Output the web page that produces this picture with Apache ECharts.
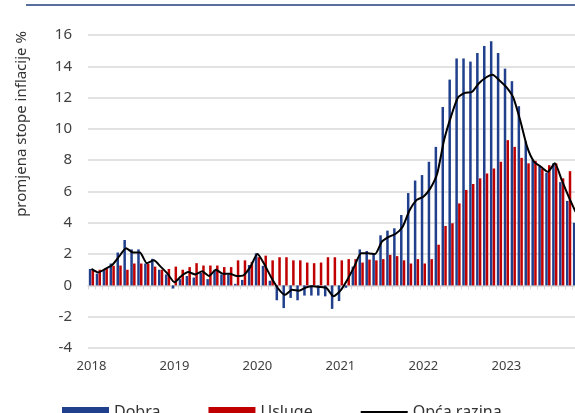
<!DOCTYPE html>
<html>
<head>
<meta charset="utf-8">
<script src="https://cdn.jsdelivr.net/npm/echarts@6/dist/echarts.min.js"></script>
<style>
  html, body { margin: 0; padding: 0; background: #fff; }
  #chart { width: 575px; height: 413px; }
</style>
</head>
<body>
<div id="chart"></div>
<script>
// mjeseci od 2018-01 do 2023-11
const years = ['2018', '2019', '2020', '2021', '2022', '2023'];
const months = ['01', '02', '03', '04', '05', '06', '07', '08', '09', '10', '11', '12'];
const categories = [];
years.forEach(y => months.forEach(m => categories.push(y + '-' + m)));
categories.length = 71;

// Dobra (plavo)
const dobra = [
  1.05, 0.75, 1.0, 1.4, 2.1, 2.9, 2.3, 2.3, 1.4, 1.7, 1.0, 0.7,
  -0.2, 0.4, 0.6, 0.5, 0.8, 0.4, 1.0, 0.7, 0.7, 0.1, 0.35, 1.3,
  2.05, 1.25, 0.3, -0.95, -1.45, -0.8, -0.95, -0.65, -0.65, -0.65, -0.7, -1.5,
  -1.0, -0.15, 1.2, 2.3, 2.2, 2.05, 3.2, 3.5, 3.65, 4.5, 5.9, 6.7,
  7.05, 7.9, 8.85, 11.4, 13.15, 14.5, 14.5, 14.3, 14.85, 15.3, 15.6, 14.85,
  13.85, 13.05, 11.45, 9.2, 8.0, 7.6, 7.2, 7.8, 6.6, 5.4, 4.0
];

// Usluge (crveno)
const usluge = [
  1.0, 1.0, 1.05, 1.25, 1.27, 1.0, 1.4, 1.4, 1.38, 1.2, 1.0, 1.05,
  1.2, 1.0, 1.17, 1.42, 1.27, 1.27, 1.27, 1.17, 1.17, 1.6, 1.6, 1.5,
  1.8, 1.9, 1.6, 1.8, 1.8, 1.6, 1.6, 1.46, 1.42, 1.46, 1.8, 1.8,
  1.6, 1.68, 1.68, 1.46, 1.65, 1.6, 1.68, 1.95, 1.87, 1.6, 1.4, 1.68,
  1.4, 1.68, 2.6, 3.8, 3.97, 5.24, 6.1, 6.48, 6.84, 7.15, 7.47, 7.9,
  9.28, 8.85, 8.15, 7.8, 7.96, 7.47, 7.68, 7.8, 6.84, 7.3, 6.9
];

// Opća razina (linija)
const opcaRazina = [
  1.06, 0.83, 1.05, 1.3, 1.85, 2.38, 2.1, 2.1, 1.42, 1.6, 1.2, 0.75,
  0.2, 0.6, 0.85, 0.7, 0.9, 0.6, 1.0, 0.75, 0.75, 0.6, 0.65, 1.2,
  2.0, 1.35, 0.5, -0.2, -0.6, -0.28, -0.34, -0.13, -0.06, -0.1, -0.17, -0.7,
  -0.34, 0.36, 1.2, 2.06, 2.06, 2.0, 2.8, 3.1, 3.3, 3.75, 4.8, 5.45,
  5.67, 6.2, 7.15, 9.3, 10.8, 12.0, 12.3, 12.36, 12.9, 13.27, 13.46, 13.1,
  12.67, 12.0, 10.55, 8.85, 7.9, 7.58, 7.26, 7.8, 6.73, 5.67, 4.7
];

const font = 'Noto Sans';
const chart = echarts.init(document.getElementById('chart'));

chart.setOption({
  animation: false,
  textStyle: { fontFamily: font },
  graphic: [
    // plava crta na vrhu
    { type: 'line', shape: { x1: 26, y1: 5, x2: 575, y2: 5 }, style: { stroke: '#1f3f7f', lineWidth: 1.5 } },
    {
      type: 'text', x: 22, y: 124, rotation: Math.PI / 2,
      style: { text: 'promjena stope inflacije %', font: '15px "Noto Sans"', fill: '#333', align: 'center', verticalAlign: 'middle' }
    }
  ],
  // graf je desno odrezan, pa je širina veća od prozora
  grid: { left: 88, width: 491, top: 35, bottom: 65, outerBoundsMode: 'none' },
  legend: {
    left: 57, top: 399,
    itemWidth: 47, itemHeight: 10, itemGap: 48,
    textStyle: { fontSize: 16, color: '#333', fontFamily: font },
    data: [
      { name: 'Dobra', icon: 'rect' },
      { name: 'Usluge', icon: 'rect' },
      { name: 'Opća razina', icon: 'path://M0,0 L48,0 L48,2 L0,2 Z' }
    ]
  },
  xAxis: [
    {
      type: 'category', data: categories, position: 'bottom',
      axisLine: { onZero: true, lineStyle: { color: '#d9d9d9', width: 1.5 } },
      axisTick: { show: true, interval: 0, length: 4, lineStyle: { color: '#d9d9d9' } },
      axisLabel: { show: false }
    },
    {
      type: 'category', data: categories, position: 'bottom',
      axisLine: { show: false, onZero: false },
      axisTick: { show: false },
      axisLabel: {
        interval: 11, margin: 12, fontSize: 13, color: '#404040', fontFamily: font,
        formatter: v => v.slice(0, 4)
      }
    }
  ],
  yAxis: {
    type: 'value', min: -4, max: 16, interval: 2,
    axisLine: { show: false }, axisTick: { show: false },
    axisLabel: { fontSize: 15, color: '#404040', margin: 16, fontFamily: font },
    splitLine: { lineStyle: { color: '#d9d9d9', width: 1.5 } }
  },
  series: [
    { name: 'Dobra', type: 'bar', data: dobra, barWidth: 2.5, barGap: '10%', itemStyle: { color: '#203f8c' } },
    { name: 'Usluge', type: 'bar', data: usluge, barWidth: 2.5, itemStyle: { color: '#c00000' } },
    {
      name: 'Opća razina', type: 'line', data: opcaRazina, symbol: 'none', smooth: 0.2, z: 5,
      itemStyle: { color: '#000' }, lineStyle: { color: '#000', width: 2 }
    }
  ]
});
</script>
</body>
</html>
